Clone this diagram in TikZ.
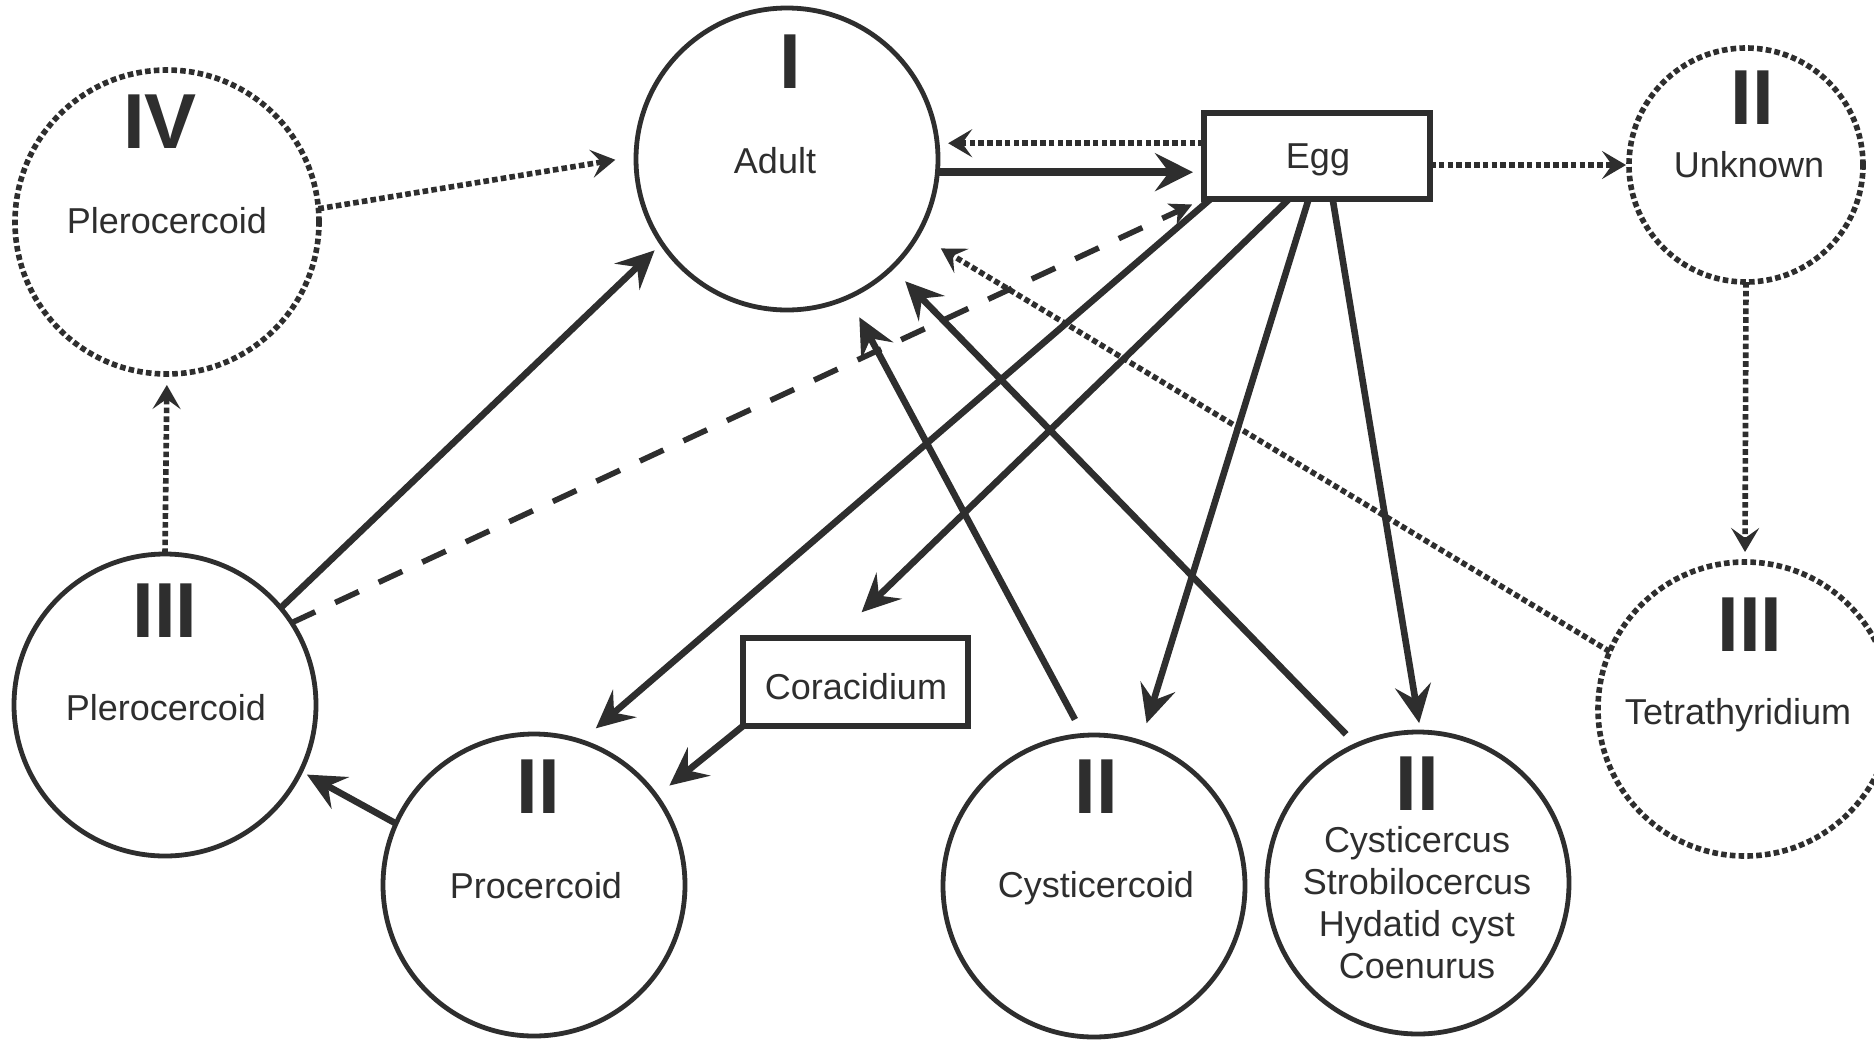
\documentclass[tikz,border=0pt]{standalone}
\usepackage{fontspec}
\setmainfont{Liberation Sans}
\usetikzlibrary{arrows.meta,calc}
\definecolor{ink}{HTML}{2E2E2E}
\begin{document}
\begin{tikzpicture}[x=0.5pt,y=-0.5pt,
  cir/.style={circle, draw=ink, line width=2.4pt, inner sep=0pt, outer sep=0pt, minimum size=#1},
  dcir/.style={cir=#1, line width=2.8pt, dash pattern=on 2.8pt off 1.6pt},
  boxnode/.style={rectangle, draw=ink, line width=3pt, inner sep=0pt, outer sep=0pt},
  lab/.style={anchor=base, inner sep=0pt, text=ink, font=\fontsize{18}{21}\selectfont},
  rom/.style={anchor=base, inner sep=0pt, text=ink, font=\fontsize{39}{40}\selectfont\bfseries},
  solarr/.style={draw=ink, line width=3.3pt, -{Stealth[length=19pt,width=18pt,inset=7pt]}},
  dotarr/.style={draw=ink, line width=2.8pt, dash pattern=on 2.8pt off 1.6pt, -{Stealth[length=12pt,width=14pt,inset=5pt]}},
  dsharr/.style={draw=ink, line width=2.8pt, dash pattern=on 13pt off 11pt, -{Stealth[length=11pt,width=11pt,inset=3pt]}}
]
\path[use as bounding box, fill=white] (0,0) rectangle (1874,1040);

% ---- stage nodes ----
\node[dcir=152pt] (p4) at (167,222) {};
\node[cir=151pt]  (a)  at (787,159) {};
\node[cir=151pt]  (p3) at (165,705) {};
\node[cir=151pt]  (pr) at (534,885) {};
\node[cir=151pt]  (cd) at (1094,886) {};
\node[cir=151pt]  (cs) at (1418,883) {};
\node[dcir=117pt] (u)  at (1746,165) {};
\node[dcir=147pt] (t)  at (1745,709) {};
\node[boxnode, minimum width=113pt, minimum height=43pt] (egg) at (1317,156) {};
\node[boxnode, minimum width=112.5pt, minimum height=44pt] (c) at (855.5,682) {};

% ---- texts ----
\node[rom] (aR) at (790,88) {I};
\node[lab] (aT) at (775,173) {Adult};
\node[rom] (p4R) at (160,148) {IV};
\node[lab] (p4T) at (167,233) {Plerocercoid};
\node[rom] (p3R) at (165,637) {III};
\node[lab] (p3T) at (166,720) {Plerocercoid};
\node[rom] (prR) at (538,813) {II};
\node[lab] (prT) at (536,898) {Procercoid};
\node[rom] (cdR) at (1096,813) {II};
\node[lab] (cdT) at (1096,897) {Cysticercoid};
\node[rom] (csR) at (1417,810) {II};
\node[lab] (csT1) at (1417,852) {Cysticercus};
\node[lab] (csT2) at (1417,894) {Strobilocercus};
\node[lab] (csT3) at (1417,936) {Hydatid cyst};
\node[lab] (csT4) at (1417,978) {Coenurus};
\node[rom] (uR) at (1752,124) {II};
\node[lab] (uT) at (1749,177) {Unknown};
\node[rom] (tR) at (1750,651) {III};
\node[lab] (tT) at (1738,724) {Tetrathyridium};
\node[lab] (eggT) at (1318,168) {Egg};
\node[lab] (cT) at (856,699) {Coracidium};

% ---- connectors ----
\draw[dotarr, shorten >=10.5pt] (p4.5) -- (a.179);
\draw[dotarr, shorten >=5.5pt] (p3.north) -- (p4.south);
\draw[solarr, shorten >=5pt] (p3.40.4) -- (a.214.9);
\draw[dsharr, shorten >=6.5pt] (p3.33) -- (egg.south west);
\draw[solarr, line width=3.8pt, -{Stealth[length=19pt,width=19pt,inset=7pt]}, shorten >=5.5pt] (a.355.4) -- (a.355.4 -| egg.west);
\draw[dotarr, shorten >=5.5pt] (a.6 -| egg.west) -- (a.6);
\draw[dotarr, shorten >=1.5pt] (egg.east |- u.west) -- (u.west);
\draw[dotarr, shorten >=5pt] (u.south) -- (t.north);
\draw[dotarr, shorten >=13.5pt] (t.157.2) -- (a.330.4);
\draw[solarr, shorten <=9pt, shorten >=11.5pt] (cd.94) -- (a.294.8);
\draw[solarr, shorten <=7.5pt, shorten >=9.5pt] (cs.114.1) -- (a.314.3);
\draw[solarr, shorten >=10pt] (egg.202.3) -- (pr.72.6);
\draw[solarr, shorten >=18.5pt] (egg.237.9) -- (c.115);
\draw[solarr, shorten >=8.5pt] (c.south west) -- (pr.36);
\draw[solarr, shorten >=3.5pt] (pr.156.5) -- (p3.334.6);
\draw[solarr, shorten >=10pt] (egg.259.5) -- (cd.72.6);
\draw[solarr, shorten >=4.5pt] (egg.290.4) -- (cs.89.3);
\end{tikzpicture}
\end{document}
